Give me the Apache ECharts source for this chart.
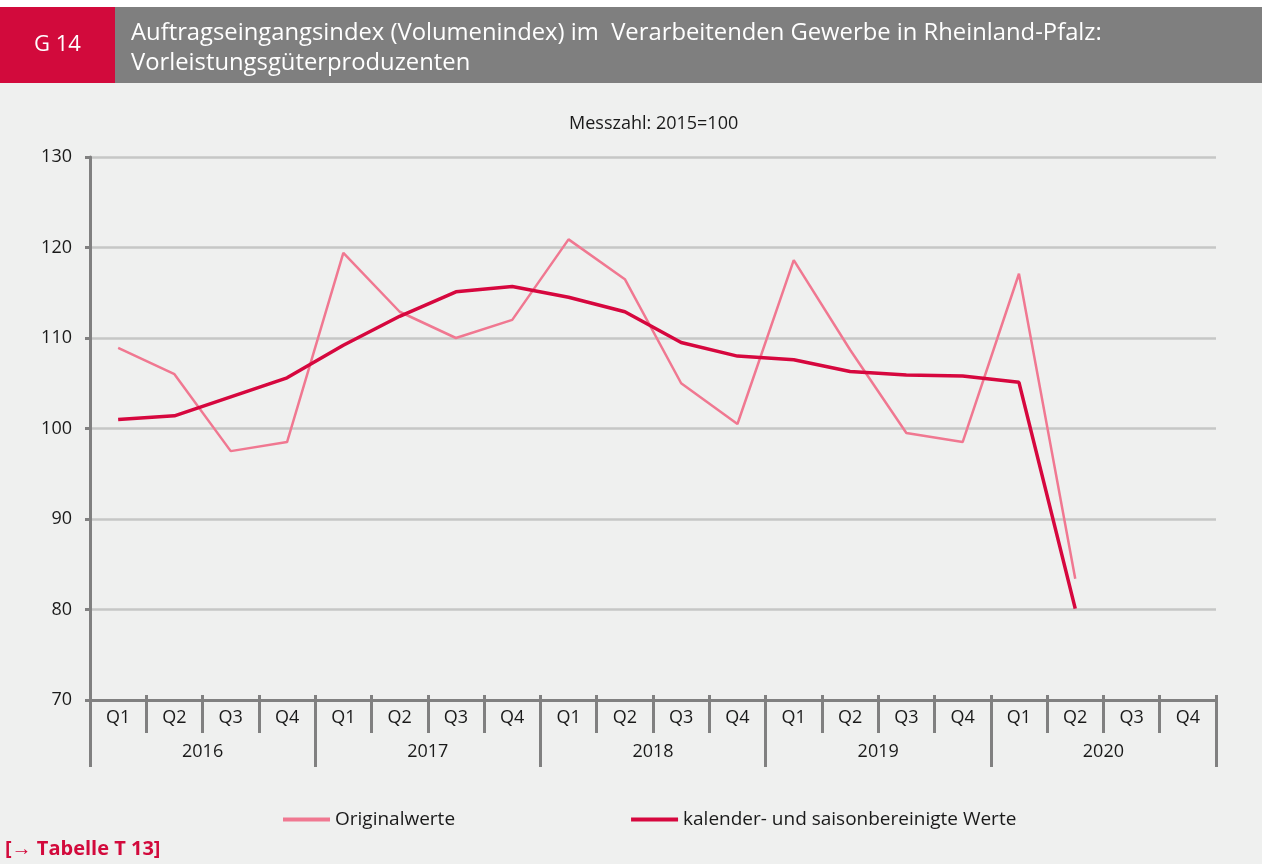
<!DOCTYPE html>
<html>
<head>
<meta charset="utf-8">
<script src="https://cdn.jsdelivr.net/npm/echarts@6/dist/echarts.min.js"></script>
<style>
  html, body { margin: 0; padding: 0; background: #fff; }
  #chart { width: 1262px; height: 864px; }
</style>
</head>
<body>
<div id="chart"></div>
<script>
  // Quartale und Jahre
  var quarters = ['Q1', 'Q2', 'Q3', 'Q4', 'Q1', 'Q2', 'Q3', 'Q4', 'Q1', 'Q2', 'Q3', 'Q4',
                  'Q1', 'Q2', 'Q3', 'Q4', 'Q1', 'Q2', 'Q3', 'Q4']
  var years = ['2016', '2017', '2018', '2019', '2020']

  // Messzahl 2015=100
  var originalwerte = [108.9, 106.0, 97.5, 98.5, 119.4, 112.9, 110.0, 112.0, 120.9, 116.5, 105.0, 100.5,
                       118.6, 108.7, 99.5, 98.5, 117.1, 83.4, null, null]
  var bereinigt = [101.0, 101.4, 103.5, 105.6, 109.2, 112.4, 115.1, 115.7, 114.5, 112.9, 109.5, 108.0,
                   107.6, 106.3, 105.9, 105.8, 105.1, 80.1, null, null]

  var yTicks = { min: 70, max: 130, interval: 10 }

  var font = '"Open Sans", "Noto Sans", sans-serif'
  var axisGray = '#808080'
  var pink = '#f07891'
  var crimson = '#d6073e'

  var chart = echarts.init(document.getElementById('chart'))
  chart.setOption({
    backgroundColor: '#eff0ef',
    animation: false,
    textStyle: { fontFamily: font },
    title: {
      text: 'Messzahl: 2015=100',
      left: 564,
      top: 110,
      textStyle: { fontFamily: font, fontSize: 18, fontWeight: 'normal', color: '#1a1a1a' }
    },
    graphic: [
      { type: 'rect', left: 0, top: 0, shape: { width: 1262, height: 7 }, style: { fill: '#ffffff' } },
      { type: 'rect', left: 0, top: 7, shape: { width: 115, height: 76 }, style: { fill: '#d20a3c' } },
      { type: 'rect', left: 115, top: 7, shape: { width: 1147, height: 76 }, style: { fill: '#7f7f7f' } },
      {
        type: 'text', left: 34, top: 34,
        style: { text: 'G 14', fill: '#fff', font: '22px ' + font }
      },
      {
        type: 'text', left: 131, top: 18,
        style: {
          text: 'Auftragseingangsindex (Volumenindex) im  Verarbeitenden Gewerbe in Rheinland-Pfalz:\nVorleistungsgüterproduzenten',
          fill: '#fff', font: '23.8px ' + font, lineHeight: 30
        }
      },
      {
        type: 'text', left: 5, top: 839,
        style: { text: '[→ Tabelle T 13]', fill: '#d20a3c', font: 'bold 20px ' + font }
      }
    ],
    legend: {
      left: 278,
      top: 805,
      itemGap: 176,
      itemWidth: 47,
      itemHeight: 4,
      icon: 'rect',
      textStyle: { fontFamily: font, fontSize: 19, color: '#1a1a1a' },
      data: ['Originalwerte', 'kalender- und saisonbereinigte Werte']
    },
    grid: { left: 90, right: 46, top: 157, bottom: 164 },
    xAxis: [
      {
        type: 'category',
        data: quarters,
        boundaryGap: true,
        axisLine: { show: true, lineStyle: { color: axisGray, width: 3 } },
        axisTick: { show: true, interval: 0, length: 33, lineStyle: { color: axisGray, width: 3 } },
        axisLabel: { interval: 0, margin: 9, fontSize: 18, color: '#1a1a1a', fontFamily: font }
      },
      {
        type: 'category',
        data: years,
        position: 'bottom',
        boundaryGap: true,
        axisLine: { show: false },
        axisTick: { show: true, interval: 0, length: 67, lineStyle: { color: axisGray, width: 3 } },
        axisLabel: { interval: 0, margin: 43, fontSize: 18, color: '#1a1a1a', fontFamily: font }
      },
      {
        type: 'category',
        data: quarters,
        position: 'bottom',
        boundaryGap: true,
        axisLine: { show: false },
        axisTick: { show: true, inside: true, interval: 0, length: 5, lineStyle: { color: axisGray, width: 3 } },
        axisLabel: { show: false }
      }
    ],
    yAxis: {
      type: 'value',
      min: yTicks.min,
      max: yTicks.max,
      interval: yTicks.interval,
      axisLine: { show: true, lineStyle: { color: axisGray, width: 3 } },
      axisTick: { show: true, length: 5, lineStyle: { color: axisGray, width: 3 } },
      axisLabel: { margin: 18, fontSize: 18, color: '#1a1a1a', fontFamily: font },
      splitLine: { lineStyle: { color: '#c6c7c6', width: 2.5 } }
    },
    series: [
      {
        name: 'Originalwerte',
        type: 'line',
        data: originalwerte,
        symbol: 'none',
        itemStyle: { color: pink },
        lineStyle: { color: pink, width: 2.5 },
        z: 3
      },
      {
        name: 'kalender- und saisonbereinigte Werte',
        type: 'line',
        data: bereinigt,
        symbol: 'none',
        itemStyle: { color: crimson },
        lineStyle: { color: crimson, width: 3.5 },
        z: 4
      }
    ]
  })
</script>
</body>
</html>
